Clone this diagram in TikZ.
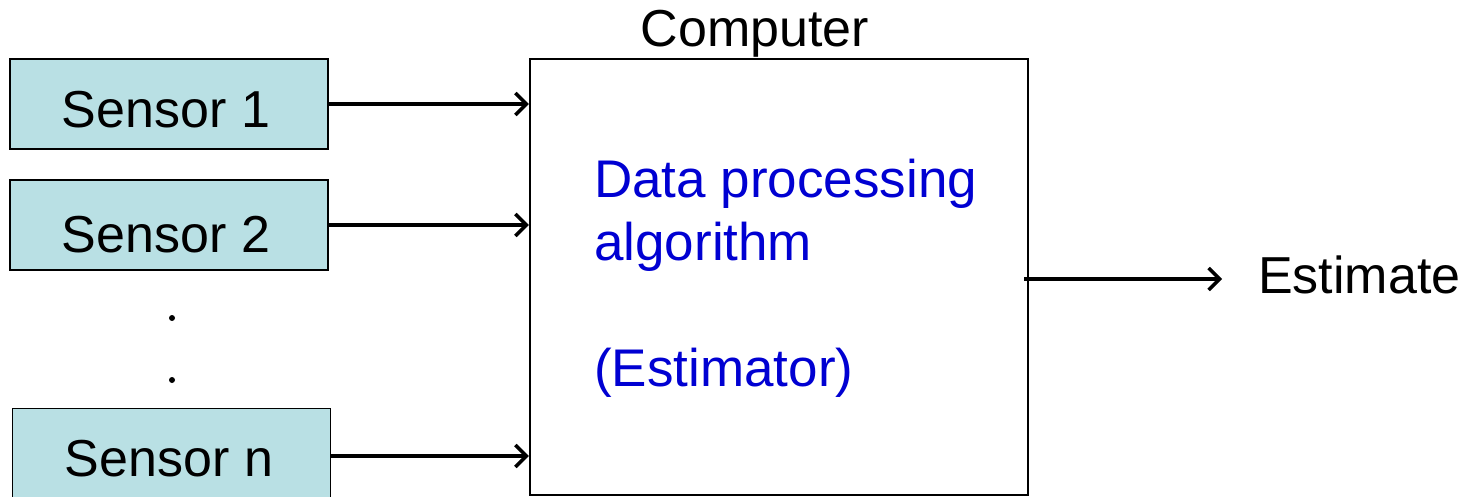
\documentclass[tikz,border=0pt]{standalone}
\usepackage{fontspec}
\setmainfont{Liberation Sans}
\usetikzlibrary{arrows.meta}
\definecolor{sensorfill}{RGB}{185,224,228}
\definecolor{textblue}{RGB}{0,0,210}
\begin{document}
\begin{tikzpicture}[x=1pt,y=-1pt,
  sensorbox/.style={draw=black, line width=1.8pt, fill=sensorfill, minimum width=318pt, minimum height=90pt, inner sep=0pt},
  arr/.style={line width=3.5pt, -{Straight Barb[length=11pt,width=22pt,line width=3.5pt]}},
  big/.style={font=\fontsize{52}{62}\selectfont, inner sep=0pt},
  blue/.style={font=\fontsize{53}{63}\selectfont, inner sep=0pt, text=textblue, anchor=base west}
]
\useasboundingbox (0,0) rectangle (1468,497);
\clip (0,0) rectangle (1468,497);
\node[sensorbox] (s1) at (169,104) {};
\node[sensorbox] (s2) at (169,225) {};
\node[sensorbox, minimum height=120pt] (sn) at (171.5,468.5) {};
\node[big, anchor=base] (s1text) at (166,128) {Sensor 1};
\node[big, anchor=base] (s2text) at (166,253) {Sensor 2};
\node[big, anchor=base] (sntext) at (169,476) {Sensor n};
\fill (172,318) circle (3pt);
\fill (172,380) circle (3pt);
\node[draw=black, line width=2.2pt, minimum width=498pt, minimum height=436pt, inner sep=0pt] (comp) at (779,277) {};
\node[big, anchor=base] (comptext) at (755,47) {Computer};
\node[blue] (t1) at (594,198) {Data processing};
\node[blue] (t2) at (594,261) {algorithm};
\node[blue] (t3) at (594,386) {(Estimator)};
\node[big, anchor=base west] (est) at (1258,294) {Estimate};
\draw[arr] (s1.east) -- (s1.east -| comp.west);
\draw[arr] (s2.east) -- (s2.east -| comp.west);
\coordinate (snout) at (330,456);
\draw[arr] (snout) -- (snout -| comp.west);
\coordinate (estin) at (1024,279);
\coordinate (estout) at (1222,279);
\draw[arr] (estin) -- (estout);
\end{tikzpicture}
\end{document}
